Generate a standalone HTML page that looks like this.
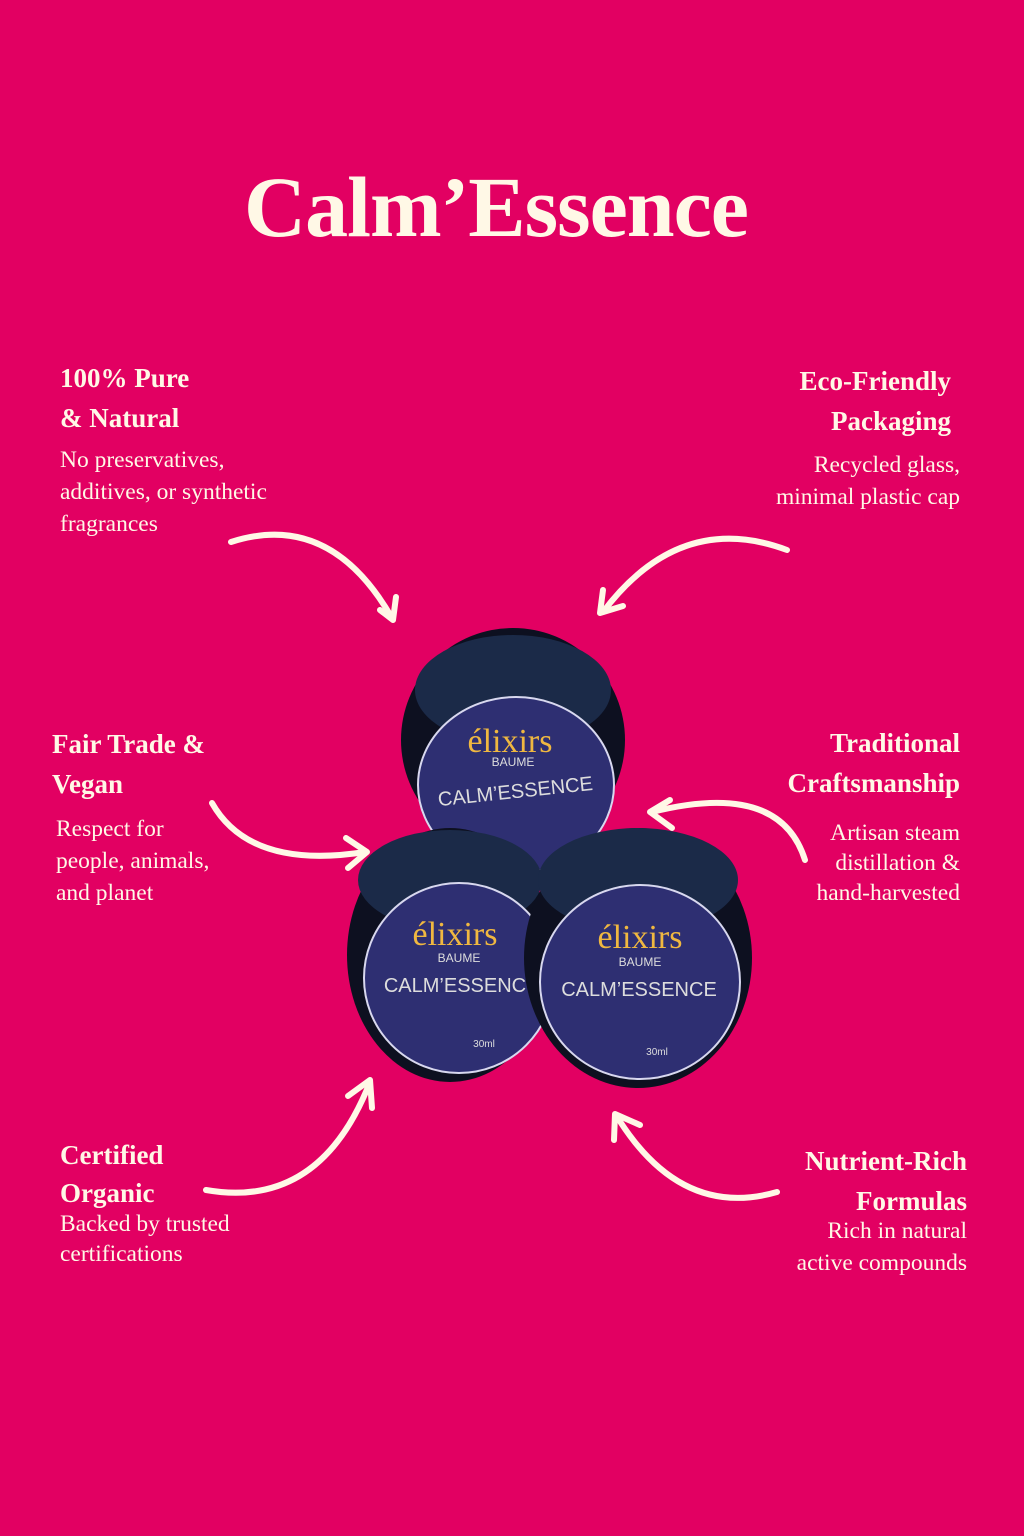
<!DOCTYPE html>
<html><head><meta charset="utf-8"><style>
body{margin:0;width:1024px;height:1536px;background:#E20062;position:relative;overflow:hidden;font-family:"Liberation Serif",serif;color:#FFF8E6}
.t{position:absolute;font-size:86px;font-weight:bold;left:0;width:992px;text-align:center;top:157px;letter-spacing:-1px}
.h{position:absolute;font-weight:bold;font-size:27px;line-height:40px}
.p{position:absolute;font-size:23.5px;line-height:32px;white-space:nowrap}
.r{text-align:right}
svg{position:absolute;left:0;top:0}
</style></head><body>
<div class="t">Calm’Essence</div>
<div class="h" style="left:60px;top:358px">100% Pure<br>&amp; Natural</div>
<div class="p" style="left:60px;top:444px">No preservatives,<br>additives, or synthetic<br>fragrances</div>
<div class="h r" style="right:73px;top:361px">Eco-Friendly<br>Packaging</div>
<div class="p r" style="right:64px;top:449px">Recycled glass,<br>minimal plastic cap</div>
<div class="h" style="left:52px;top:724px">Fair Trade &amp;<br>Vegan</div>
<div class="p" style="left:56px;top:813px">Respect for<br>people, animals,<br>and planet</div>
<div class="h r" style="right:64px;top:723px">Traditional<br>Craftsmanship</div>
<div class="p r" style="right:64px;top:818px;line-height:30px">Artisan steam<br>distillation &amp;<br>hand-harvested</div>
<div class="h" style="left:60px;top:1136px;line-height:38px">Certified<br>Organic</div>
<div class="p" style="left:60px;top:1209px;line-height:30px">Backed by trusted<br>certifications</div>
<div class="h r" style="right:57px;top:1141px">Nutrient-Rich<br>Formulas</div>
<div class="p r" style="right:57px;top:1215px">Rich in natural<br>active compounds</div>
<svg width="1024" height="1536" viewBox="0 0 1024 1536">
<g fill="none" stroke="#FFF8E6" stroke-width="6" stroke-linecap="round" stroke-linejoin="round">
<path d="M231 542 Q330 510 392 618"/><path d="M380 610 L393 620 L396 597"/>
<path d="M787 550 Q680 510 603 612"/><path d="M603 590 L600 613 L623 606"/>
<path d="M212 803 Q250 870 365 852"/><path d="M346 838 L367 852 L348 868"/>
<path d="M805 860 Q780 780 652 812"/><path d="M670 800 L650 812 L672 828"/>
<path d="M206 1190 Q320 1210 370 1082"/><path d="M348 1096 L370 1080 L372 1108"/>
<path d="M777 1192 Q680 1220 616 1115"/><path d="M614 1140 L615 1114 L640 1125"/>
</g>
<g>
<ellipse cx="513" cy="740" rx="112" ry="112" fill="#0d1020"/>
<ellipse cx="513" cy="690" rx="98" ry="55" fill="#1b2a48"/>
<ellipse cx="516" cy="785" rx="98" ry="88" fill="#2e2f72" stroke="#d8d8ef" stroke-width="2"/>
<ellipse cx="450" cy="955" rx="103" ry="127" fill="#0d1020"/>
<ellipse cx="450" cy="880" rx="92" ry="50" fill="#1b2a48"/>
<ellipse cx="459" cy="978" rx="95" ry="95" fill="#2e2f72" stroke="#d8d8ef" stroke-width="2"/>
<ellipse cx="638" cy="958" rx="114" ry="130" fill="#0d1020"/>
<ellipse cx="638" cy="880" rx="100" ry="52" fill="#1b2a48"/>
<ellipse cx="640" cy="982" rx="100" ry="97" fill="#2e2f72" stroke="#d8d8ef" stroke-width="2"/>
</g>
<g font-family="Liberation Sans,sans-serif" text-anchor="middle">
<text x="510" y="752" fill="#f0b840" font-size="34" font-family="Liberation Serif,serif">élixirs</text>
<text x="513" y="766" fill="#ddd" font-size="12">BAUME</text>
<text x="516" y="798" fill="#ddd" font-size="20" transform="rotate(-6 516 798)">CALM’ESSENCE</text>
<text x="455" y="945" fill="#f0b840" font-size="34" font-family="Liberation Serif,serif">élixirs</text>
<text x="459" y="962" fill="#ddd" font-size="12">BAUME</text>
<text x="455" y="992" fill="#ddd" font-size="20">CALM’ESSENC</text>
<text x="484" y="1047" fill="#ddd" font-size="10">30ml</text>
<text x="640" y="948" fill="#f0b840" font-size="34" font-family="Liberation Serif,serif">élixirs</text>
<text x="640" y="966" fill="#ddd" font-size="12">BAUME</text>
<text x="639" y="996" fill="#ddd" font-size="20">CALM’ESSENCE</text>
<text x="657" y="1055" fill="#ddd" font-size="10">30ml</text>
</g>
</svg>
</body></html>
